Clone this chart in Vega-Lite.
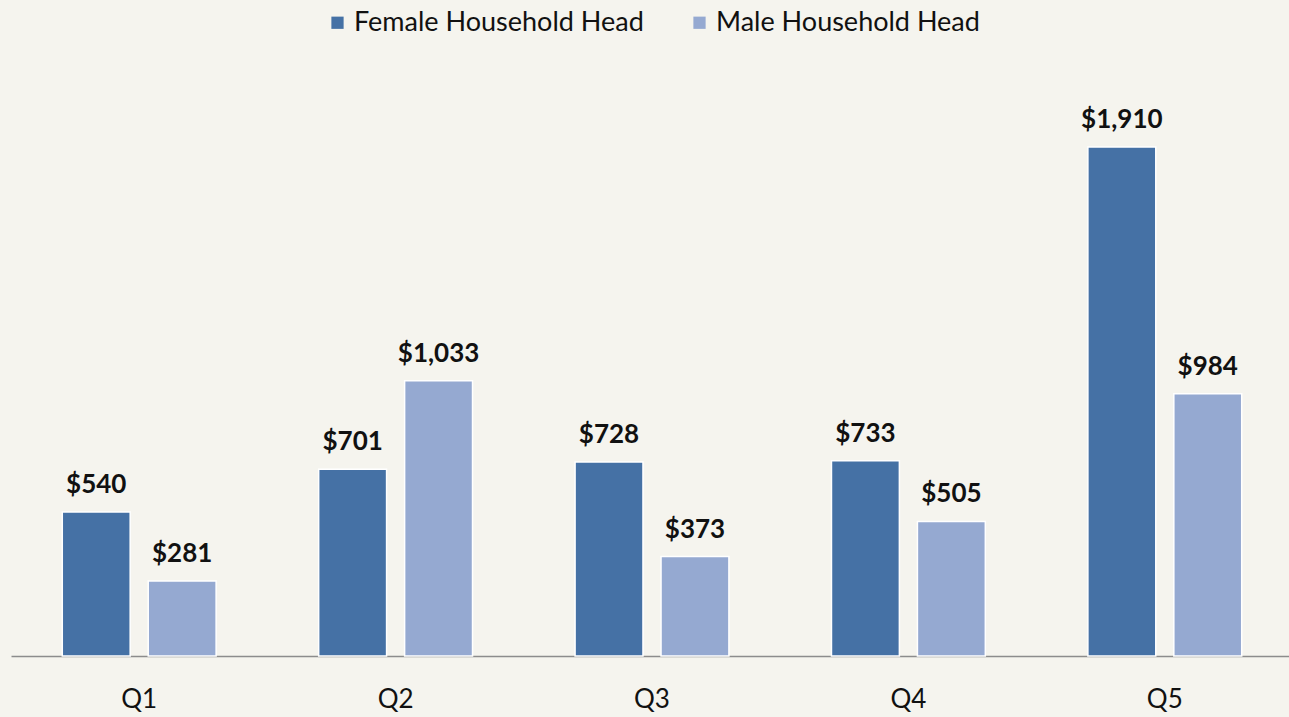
{
  "$schema": "https://vega.github.io/schema/vega-lite/v6.json",
  "autosize": "none",
  "width": 1282,
  "height": 533,
  "padding": {"left": 11, "top": 123, "right": 0, "bottom": 61},
  "background": "#f5f4ee",
  "config": {"view": {"stroke": null}, "font": "Lato"},
  "data": {"values": [
    {"q": "Q1", "g": "Female Household Head", "v": 540},
    {"q": "Q1", "g": "Male Household Head", "v": 281},
    {"q": "Q2", "g": "Female Household Head", "v": 701},
    {"q": "Q2", "g": "Male Household Head", "v": 1033},
    {"q": "Q3", "g": "Female Household Head", "v": 728},
    {"q": "Q3", "g": "Male Household Head", "v": 373},
    {"q": "Q4", "g": "Female Household Head", "v": 733},
    {"q": "Q4", "g": "Male Household Head", "v": 505},
    {"q": "Q5", "g": "Female Household Head", "v": 1910},
    {"q": "Q5", "g": "Male Household Head", "v": 984}
  ]},
  "encoding": {
    "x": {"field": "q", "type": "nominal", "title": null,
      "scale": {"paddingInner": 0.4, "paddingOuter": 0.2},
      "axis": {"labelAngle": 0, "labelFontSize": 26, "labelColor": "#111111", "labelPadding": 30, "ticks": false, "domainColor": "#8c8c8c", "domainWidth": 1.5, "grid": false}},
    "xOffset": {"field": "g", "type": "nominal", "scale": {"paddingInner": 0.21, "paddingOuter": 0}},
    "y": {"field": "v", "type": "quantitative", "scale": {"domain": [0, 2000], "nice": false}, "axis": null}
  },
  "layer": [
    {
      "mark": {"type": "bar", "stroke": "#ffffff", "strokeWidth": 1.5},
      "encoding": {
        "color": {"field": "g", "type": "nominal", "title": null,
          "scale": {"domain": ["Female Household Head", "Male Household Head"], "range": ["#4571a5", "#95a9d1"]},
          "legend": {"orient": "none", "legendX": 313, "legendY": -114, "direction": "horizontal", "symbolType": "square", "symbolSize": 150, "symbolStrokeWidth": 0, "labelFontSize": 27, "labelLimit": 500, "labelColor": "#111111", "columnPadding": 42, "labelOffset": 3}}
      }
    },
    {
      "mark": {"type": "text", "baseline": "bottom", "dy": -14, "fontSize": 26, "fontWeight": "bold", "color": "#111111"},
      "encoding": {"text": {"field": "v", "type": "quantitative", "format": "$,.0f"}}
    }
  ]
}
